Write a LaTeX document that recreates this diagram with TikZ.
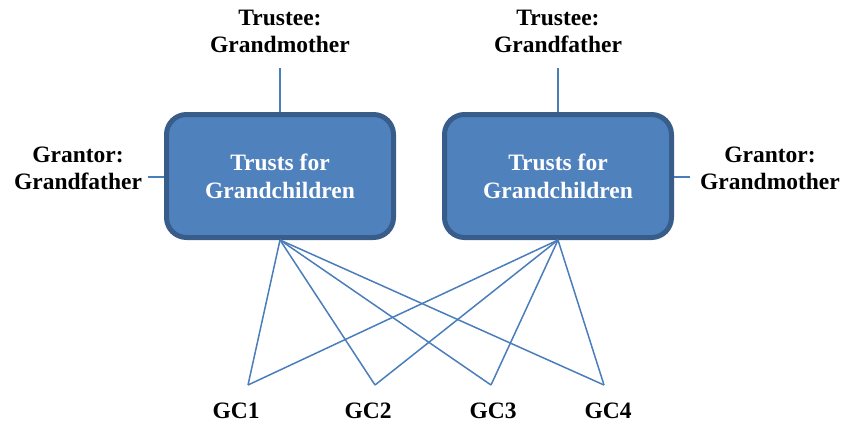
\documentclass[tikz,border=0pt]{standalone}
\usepackage{fontspec}
\setmainfont{Liberation Serif}
\begin{document}
\begin{tikzpicture}[x=1pt,y=-1pt,
  trustbox/.style={draw=boxedge,fill=boxfill,line width=5pt,rounded corners=20pt,
    minimum width=227pt,minimum height=123pt,inner sep=0pt,align=center,
    text=white,font=\fontsize{23.5}{28}\selectfont\bfseries},
  lbl/.style={align=center,font=\fontsize{23.5}{27}\selectfont\bfseries,inner sep=0pt},
  link/.style={draw=linkblue,line width=1.5pt}]
\definecolor{boxfill}{HTML}{4F81BD}
\definecolor{boxedge}{HTML}{385D8A}
\definecolor{linkblue}{HTML}{4A7EBB}
\useasboundingbox (0,0) rectangle (844,423);
\node[trustbox] (b1) at (280,176) {Trusts for\\Grandchildren};
\node[trustbox] (b2) at (558,176) {Trusts for\\Grandchildren};
\node[lbl] (t1) at (280,31) {Trustee:\\Grandmother};
\node[lbl] (t2) at (558,31) {Trustee:\\Grandfather};
\node[lbl] (r1) at (78,168) {Grantor:\\Grandfather};
\node[lbl] (r2) at (770,168) {Grantor:\\Grandmother};
\coordinate (t1e) at (280,68);
\coordinate (t2e) at (558,68);
\coordinate (r1e) at (148,177);
\coordinate (r2e) at (690,177);
\coordinate (g1) at (248,385);
\coordinate (g2) at (375,385);
\coordinate (g3) at (491,385);
\coordinate (g4) at (604,385);
\node[lbl] (c1) at (236,411) {GC1};
\node[lbl] (c2) at (368,411) {GC2};
\node[lbl] (c3) at (493,411) {GC3};
\node[lbl] (c4) at (608,411) {GC4};
\draw[link] (t1e) -- (b1.north);
\draw[link] (t2e) -- (b2.north);
\draw[link] (r1e) -- (b1.west |- r1e);
\draw[link] (r2e) -- (b2.east |- r2e);
\foreach \g in {g1,g2,g3,g4} {
  \draw[link] (b1.south) -- (\g);
  \draw[link] (b2.south) -- (\g);
}
\end{tikzpicture}
\end{document}
